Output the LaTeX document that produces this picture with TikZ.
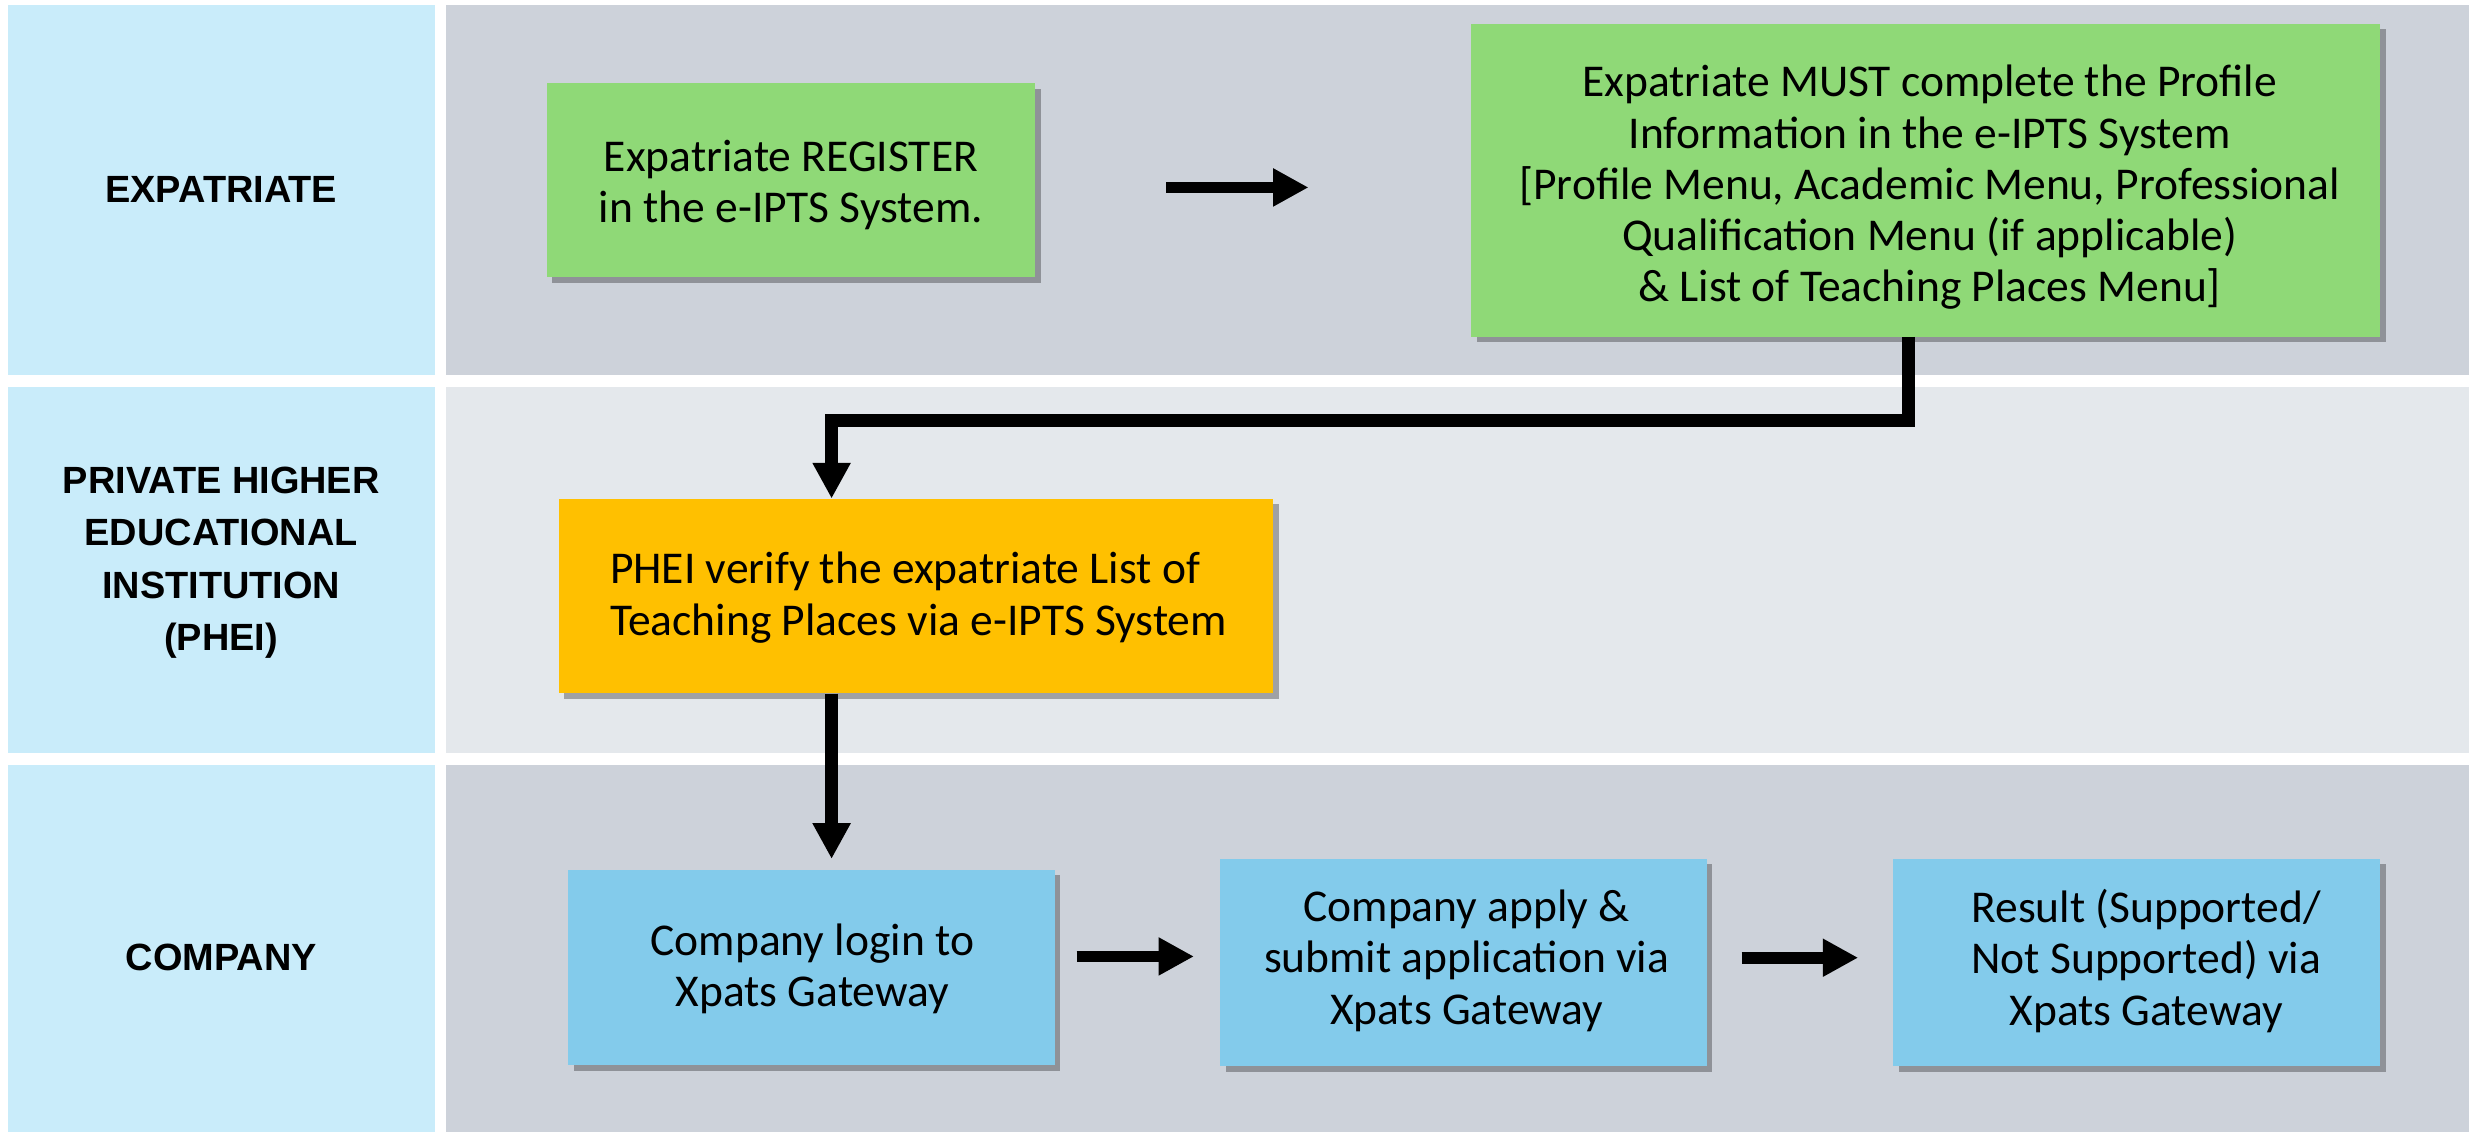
\documentclass[tikz,border=0pt]{standalone}
\usepackage{fontspec}
\setmainfont{Carlito}
\newfontfamily\lanefont{Liberation Sans}
\usetikzlibrary{arrows.meta,shadows}
\definecolor{lanelbl}{HTML}{C9ECFA}
\definecolor{lanedark}{HTML}{CDD2DA}
\definecolor{lanelight}{HTML}{E4E8EC}
\definecolor{boxgreen}{HTML}{8FD977}
\definecolor{boxorange}{HTML}{FFC000}
\definecolor{boxblue}{HTML}{83CBEB}
\begin{document}
\begin{tikzpicture}[x=1pt,y=-1pt,
  lanetext/.style={font=\lanefont\bfseries\fontsize{24}{33}\selectfont, align=center, inner sep=0pt},
  stepbox/.style={inner sep=0pt,
    drop shadow={shadow xshift=3.5pt, shadow yshift=-3.5pt, fill=black, opacity=0.3}},
  steptext/.style={inner sep=0pt, align=center, anchor=base, font=\fontsize{28.8}{32.4}\selectfont},
  shortarrow/.style={line width=7.4pt, -{Triangle[length=22.4pt,width=22.6pt]}},
  longarrow/.style={line width=8pt, -{Triangle[length=22.6pt,width=22.6pt]}}
]
\useasboundingbox (0,0) rectangle (1568,716);
% lanes
\fill[lanelbl] (5,3.2) rectangle (275,237.3);
\fill[lanelbl] (5,244.7) rectangle (275,476.3);
\fill[lanelbl] (5,484) rectangle (275,716);
\fill[lanedark] (282.5,3.2) rectangle (1562.3,237.3);
\fill[lanelight] (282.5,244.7) rectangle (1562.3,476.3);
\fill[lanedark] (282.5,484) rectangle (1562.3,716);
% lane labels
\node[lanetext] (lexp) at (140,120) {EXPATRIATE};
\node[lanetext] (lphei) at (140,356) {PRIVATE HIGHER\\EDUCATIONAL\\INSTITUTION\\(PHEI)};
\node[lanetext] (lcomp) at (140,606) {COMPANY};
% boxes (text nodes anchored at the baseline of their last line)
\node[stepbox, fill=boxgreen, minimum width=309pt, minimum height=123pt] (reg) at (500.5,114) {};
\node[steptext] (regt) at (500.5,140.9) {Expatriate REGISTER\\in the e-IPTS System.};
\node[stepbox, fill=boxgreen, minimum width=575pt, minimum height=198pt] (prof) at (1218.5,114) {};
\node[steptext] (proft) at (1221,190.9)
  {Expatriate MUST complete the Profile\\Information in the e-IPTS System\\{}%
   [Profile Menu, Academic Menu, Professional\\Qualification Menu (if applicable)\\{}%
   \& List of Teaching Places Menu]};
\node[stepbox, fill=boxorange, minimum width=452pt, minimum height=123pt] (phei) at (579.5,377.2) {};
\node[steptext, align=left, anchor=base west] (pheit) at (385.8,401.8)
  {PHEI verify the expatriate List of\\Teaching Places via e-IPTS System};
\node[stepbox, fill=boxblue, minimum width=308pt, minimum height=123.5pt] (c1) at (513.5,612.2) {};
\node[steptext] (c1t) at (514,637) {Company login to\\Xpats Gateway};
\node[stepbox, fill=boxblue, minimum width=308pt, minimum height=131pt] (c2) at (926,609) {};
\node[steptext] (c2t) at (928,648) {Company apply \&\\submit application via\\Xpats Gateway};
\node[stepbox, fill=boxblue, minimum width=308pt, minimum height=131pt] (c3) at (1352,609) {};
\node[steptext] (c3t) at (1358,648.6) {Result (Supported/\\Not Supported) via\\Xpats Gateway};
% connectors
\coordinate (a1s) at (738,118.6);
\coordinate (a1e) at (828,118.6);
\draw[shortarrow] (a1s) -- (a1e);
\coordinate (k1) at (1207.5,266);
\coordinate (k2) at (526.2,266);
\draw[longarrow] (prof.south -| k1) -- (k1) -- (k2) -- (phei.north -| k2);
\coordinate (k3) at (526.2,543.5);
\draw[longarrow] (phei.south -| k3) -- (k3);
\coordinate (a2s) at (681.3,605.2);
\coordinate (a2e) at (755.5,605.2);
\draw[shortarrow] (a2s) -- (a2e);
\coordinate (a3s) at (1102,606);
\coordinate (a3e) at (1175.8,606);
\draw[shortarrow] (a3s) -- (a3e);
\end{tikzpicture}
\end{document}
